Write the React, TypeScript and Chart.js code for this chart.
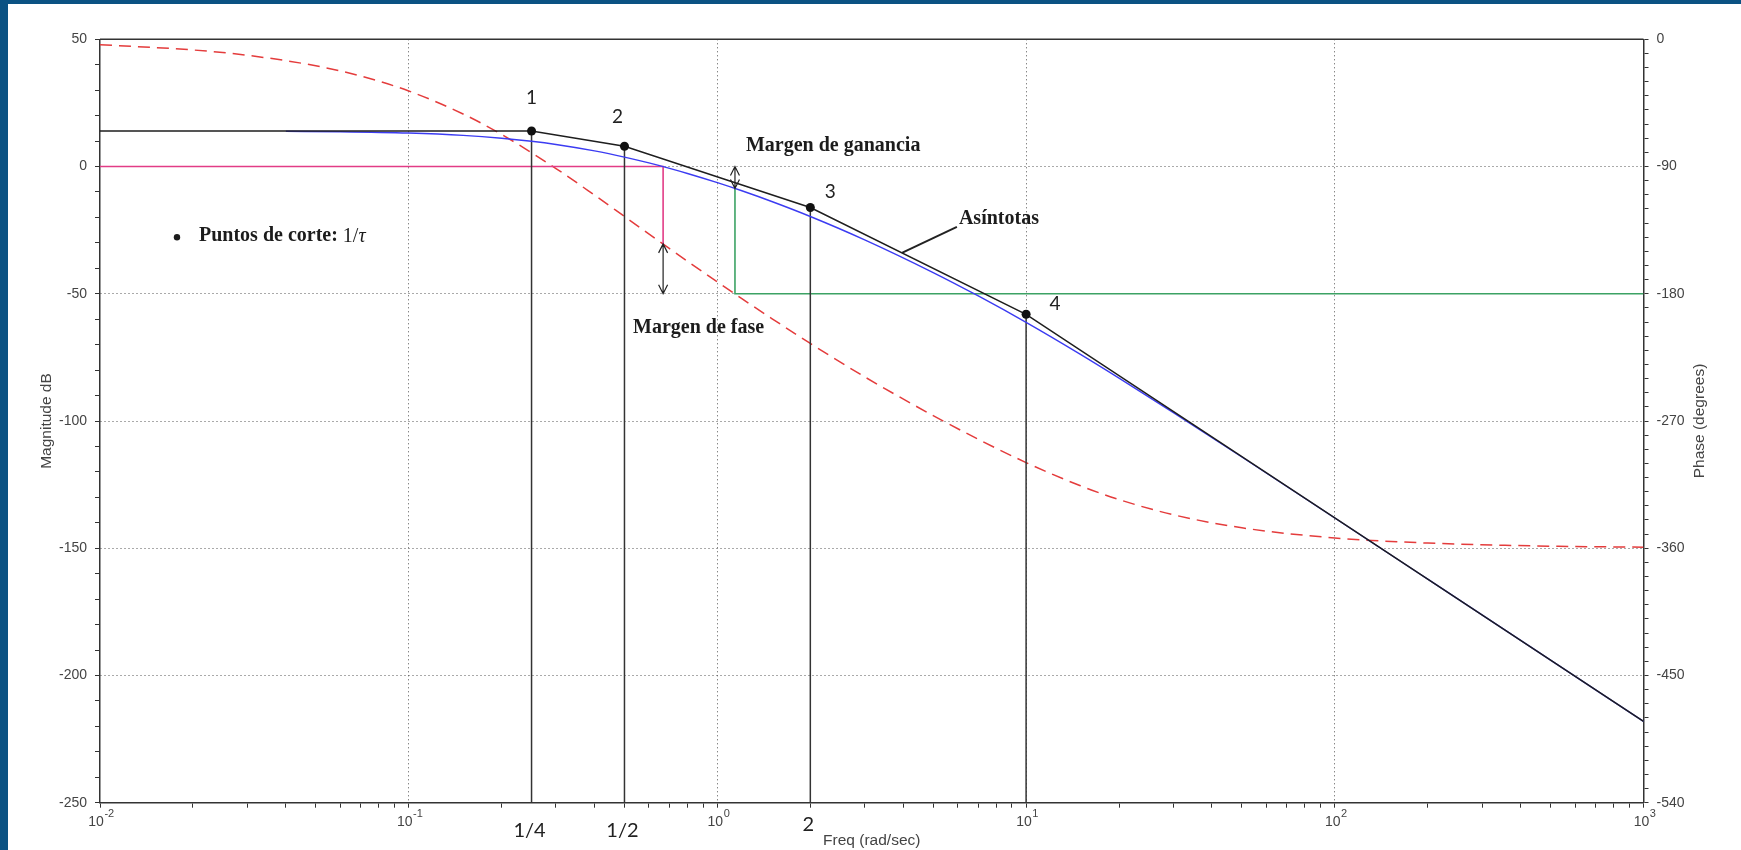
import React, { useEffect, useRef } from "react";
import { Chart, registerables } from "chart.js";

Chart.register(...registerables);

// G(s) = 5 / ((4s+1)(2s+1)(0.5s+1)(0.1s+1)) — Bode diagram with asymptotes and margins

// Corner frequencies 1/tau (rad/s) and their numbering
const breakFreqs = [0.25, 0.5, 2, 10];
const breakLabels = ["1", "2", "3", "4"];
const breakAxisLabels = ["1/4", "1/2", "2"];

// Straight-line asymptotes (dB)
const asymFreqs = [0.01, 0.25, 0.5, 2, 10, 1000];
const asymDb = [13.98, 13.98, 7.96, -16.12, -58.06, -218.06];

// Exact magnitude (dB)
const magFreqs = [
  0.04, 0.06, 0.1, 0.15, 0.2, 0.25, 0.3, 0.4, 0.5, 0.6, 0.7, 0.8, 1, 1.2, 1.5, 2, 3, 5, 7, 10,
  15, 20, 30, 50, 100, 200, 500, 1000,
];
const magDb = [
  13.84, 13.67, 13.15, 12.25, 11.14, 9.93, 8.67, 6.14, 3.71, 1.42, -0.72, -2.72, -6.33, -9.53,
  -13.74, -19.63, -28.81, -41.67, -50.87, -61.25, -73.83, -83.16, -96.71, -114.16, -138.11,
  -162.15, -193.98, -218.06,
];

// Phase (degrees, right axis)
const phaseFreqs = [
  0.01, 0.02, 0.03, 0.05, 0.07, 0.1, 0.15, 0.2, 0.3, 0.4, 0.5, 0.7, 1, 1.2, 1.5, 2, 3, 5, 7, 10,
  15, 20, 30, 50, 100, 200, 500, 1000,
];
const phaseDeg = [
  -3.78, -7.55, -11.31, -18.74, -26.02, -36.54, -52.81, -67.32, -91.41, -110.26, -125.33, -148.1,
  -171.68, -183.42, -197.5, -215.15, -238.78, -266.19, -282.92, -299.4, -315.85, -325.58, -336.32,
  -345.54, -352.71, -356.35, -358.54, -359.27,
];

// Margins
const gainCrossFreq = 0.667; // |G| = 0 dB
const gainCrossPhaseDb = -30.4; // phase there (-144.7 deg) read on the dB axis
const phaseCrossFreq = 1.14; // phase = -180 deg
const phaseCrossMagDb = -8.6; // magnitude there
const minus180Db = -50; // -180 deg on the dB axis

// Point where the "Asíntotas" leader touches the asymptote
const leaderFreq = 3.96;
const leaderDb = -33.9;

// Axis ticks
const xDecades = [0.01, 0.1, 1, 10, 100, 1000];
const xDecadeExponents = ["-2", "-1", "0", "1", "2", "3"];
const magTickLabels = [50, 0, -50, -100, -150, -200, -250];
const phaseTickLabels = [0, -90, -180, -270, -360, -450, -540];

const xTickValues: number[] = [];
xDecades.slice(0, -1).forEach((d) => {
  for (let m = 1; m < 10; m++) xTickValues.push(+(m * d).toPrecision(6));
});
xTickValues.push(xDecades[xDecades.length - 1]);

const SANS = '"Liberation Sans", Arial, sans-serif';
const SERIF = '"Liberation Serif", "Times New Roman", serif';
const NUM = 'Lato, "Open Sans", sans-serif';
const AXIS = "#333";
const TXT = "#444";
const GRID = "#555";

const pts = (xs: number[], ys: number[]) => xs.map((x, i) => ({ x, y: ys[i] }));
const decadeIndex = (v: number) => xDecades.findIndex((d) => Math.abs(d - v) < d * 1e-6);

const notesPlugin = {
  id: "bodeNotes",
  beforeDraw(chart: any) {
    const { ctx, width, height } = chart;
    ctx.save();
    ctx.fillStyle = "#ffffff";
    ctx.fillRect(0, 0, width, height);
    ctx.fillStyle = "#0b5283";
    ctx.fillRect(0, 0, 8, height);
    ctx.fillRect(0, 0, width, 4);
    ctx.restore();
  },
  afterDraw(chart: any) {
    const { ctx, chartArea: a, scales } = chart;
    const px = (f: number) => scales.x.getPixelForValue(f);
    const py = (d: number) => scales.y.getPixelForValue(d);
    ctx.save();

    // top edge of the frame
    ctx.strokeStyle = AXIS;
    ctx.lineWidth = 1.5;
    ctx.beginPath();
    ctx.moveTo(a.left, a.top);
    ctx.lineTo(a.right, a.top);
    ctx.stroke();

    // decade labels of the frequency axis: 10 with a raised exponent
    ctx.fillStyle = TXT;
    ctx.textBaseline = "middle";
    ctx.textAlign = "left";
    xDecades.forEach((d, i) => {
      ctx.font = `14px ${SANS}`;
      const wBase = ctx.measureText("10").width;
      ctx.font = `11px ${SANS}`;
      const wExp = ctx.measureText(xDecadeExponents[i]).width;
      const x0 = px(d) - (wBase + wExp) / 2 + 1;
      ctx.font = `14px ${SANS}`;
      ctx.fillText("10", x0, a.bottom + 19);
      ctx.font = `11px ${SANS}`;
      ctx.fillText(xDecadeExponents[i], x0 + wBase + 0.5, a.bottom + 11);
    });

    // double arrows for the margins
    const arrow = (x: number, yTop: number, yBot: number) => {
      ctx.beginPath();
      ctx.moveTo(x, yTop);
      ctx.lineTo(x, yBot);
      ctx.moveTo(x - 4.5, yTop + 9);
      ctx.lineTo(x, yTop);
      ctx.lineTo(x + 4.5, yTop + 9);
      ctx.moveTo(x - 4.5, yBot - 9);
      ctx.lineTo(x, yBot);
      ctx.lineTo(x + 4.5, yBot - 9);
      ctx.stroke();
    };
    ctx.strokeStyle = "#222";
    ctx.lineWidth = 1.2;
    arrow(px(phaseCrossFreq), py(0), py(phaseCrossMagDb));
    arrow(px(gainCrossFreq), py(gainCrossPhaseDb), py(minus180Db));

    // leader line to the asymptote
    const lx = px(leaderFreq);
    const ly = py(leaderDb);
    ctx.lineWidth = 2;
    ctx.beginPath();
    ctx.moveTo(lx, ly);
    ctx.lineTo(lx + 55, ly - 26);
    ctx.stroke();

    ctx.fillStyle = "#1c1c1c";
    ctx.textBaseline = "middle";

    // bold notes
    ctx.font = `bold 20px ${SERIF}`;
    ctx.textAlign = "left";
    ctx.fillText("Asíntotas", lx + 57, ly - 34);
    ctx.fillText("Margen de ganancia", px(phaseCrossFreq) + 11, py(0) - 21);
    ctx.fillText("Margen de fase", px(gainCrossFreq) - 30, py(minus180Db) + 34);

    // bullet note
    const bx = a.left + 77;
    const by = a.top + 197;
    ctx.beginPath();
    ctx.arc(bx, by + 1, 3.2, 0, Math.PI * 2);
    ctx.fill();
    let tx = bx + 22;
    const t1 = "Puntos de corte: ";
    ctx.fillText(t1, tx, by);
    tx += ctx.measureText(t1).width;
    ctx.font = `20px ${SERIF}`;
    ctx.fillText("1/", tx, by);
    tx += ctx.measureText("1/").width;
    ctx.font = `italic 20px ${SERIF}`;
    ctx.fillText("\u03C4", tx, by);

    // numbering of the corner points
    const numOffsets = [
      [0, -33],
      [-7, -29],
      [20, -16],
      [29, -10],
    ];
    ctx.font = `19px ${NUM}`;
    ctx.fillStyle = "#222";
    ctx.textAlign = "center";
    breakFreqs.forEach((f, i) => {
      const d = asymDb[asymFreqs.indexOf(f)];
      ctx.fillText(breakLabels[i], px(f) + numOffsets[i][0], py(d) + numOffsets[i][1]);
    });

    // corner frequencies under the axis
    ctx.font = `20px ${NUM}`;
    ctx.textBaseline = "alphabetic";
    const lift = [0, 0, 6];
    breakAxisLabels.forEach((s, i) => {
      ctx.fillText(s, px(breakFreqs[i]) - 2, a.bottom + 34 - lift[i]);
    });

    // right-hand axis title, reading upwards
    ctx.font = `15.5px ${SANS}`;
    ctx.fillStyle = TXT;
    ctx.textBaseline = "middle";
    ctx.translate(1700, (a.top + a.bottom) / 2);
    ctx.rotate(-Math.PI / 2);
    ctx.fillText("Phase (degrees)", 0, 0);

    ctx.restore();
  },
};

export default function App() {
  const ref = useRef<HTMLCanvasElement>(null);

  useEffect(() => {
    const canvas = ref.current;
    if (!canvas) return;

    const breakLines = breakFreqs.map((f, i) => ({
      label: `corte ${breakLabels[i]}`,
      data: [
        { x: f, y: asymDb[asymFreqs.indexOf(f)] },
        { x: f, y: -250 },
      ],
      yAxisID: "y",
      borderColor: "#333",
      borderWidth: 1.5,
      pointRadius: 0,
      order: 2,
    }));

    const chart = new Chart(canvas, {
      type: "line",
      data: {
        datasets: [
          {
            label: "Asíntotas",
            data: pts(asymFreqs, asymDb),
            yAxisID: "y",
            borderColor: "#1e1e1e",
            borderWidth: 1.5,
            pointRadius: (c: any) => (c.dataIndex >= 1 && c.dataIndex <= 4 ? 4.5 : 0),
            pointBackgroundColor: "#111",
            pointBorderWidth: 0,
            order: 0,
          },
          {
            label: "Magnitud",
            data: pts(magFreqs, magDb),
            yAxisID: "y",
            borderColor: "#3c3cf2",
            borderWidth: 1.4,
            pointRadius: 0,
            cubicInterpolationMode: "monotone",
            order: 1,
          },
          ...breakLines,
          {
            label: "0 dB",
            data: [
              { x: 0.01, y: 0 },
              { x: gainCrossFreq, y: 0 },
              { x: gainCrossFreq, y: gainCrossPhaseDb },
            ],
            yAxisID: "y",
            borderColor: "#e23c86",
            borderWidth: 1.6,
            pointRadius: 0,
            order: 3,
          },
          {
            label: "-180",
            data: [
              { x: phaseCrossFreq, y: phaseCrossMagDb },
              { x: phaseCrossFreq, y: minus180Db },
              { x: 1000, y: minus180Db },
            ],
            yAxisID: "y",
            borderColor: "#3ca264",
            borderWidth: 1.6,
            pointRadius: 0,
            order: 4,
          },
          {
            label: "Fase",
            data: pts(phaseFreqs, phaseDeg),
            yAxisID: "y2",
            borderColor: "#e43c3c",
            borderWidth: 1.5,
            borderDash: [12, 7],
            pointRadius: 0,
            cubicInterpolationMode: "monotone",
            order: 5,
          },
        ],
      },
      options: {
        responsive: false,
        animation: false,
        devicePixelRatio: 1,
        layout: { padding: { top: 39.3, left: 0, right: 0, bottom: 0 } },
        plugins: {
          legend: { display: false },
          tooltip: { enabled: false },
        },
        scales: {
          x: {
            type: "logarithmic",
            position: "bottom",
            min: 0.01,
            max: 1000,
            afterBuildTicks: (s: any) => {
              s.ticks = xTickValues.map((v) => ({ value: v }));
            },
            afterFit: (s: any) => {
              s.height = 47.3;
            },
            ticks: {
              autoSkip: false,
              maxRotation: 0,
              minRotation: 0,
              padding: 4,
              color: TXT,
              font: { family: SANS, size: 14 },
              // decade labels carry a raised exponent and are drawn by the plugin
              callback: () => "",
            },
            grid: {
              color: (c: any) => {
                const v = c.tick ? c.tick.value : NaN;
                const i = decadeIndex(v);
                return i > 0 && i < xDecades.length - 1 ? GRID : "rgba(0,0,0,0)";
              },
              lineWidth: 1,
              tickLength: 5,
              tickColor: AXIS,
            },
            border: { display: true, color: AXIS, width: 1.5, dash: [1, 3] },
            title: {
              display: true,
              text: "Freq (rad/sec)",
              color: TXT,
              font: { family: SANS, size: 15.5 },
              padding: { top: 0, bottom: 0 },
            },
          },
          y: {
            type: "linear",
            position: "left",
            min: -250,
            max: 50,
            afterFit: (s: any) => {
              s.width = 100;
            },
            ticks: {
              stepSize: 10,
              autoSkip: false,
              padding: 8,
              color: TXT,
              font: { family: SANS, size: 14 },
              callback: (v: any) => (magTickLabels.includes(Number(v)) ? String(v) : ""),
            },
            grid: {
              color: (c: any) => {
                const v = c.tick ? c.tick.value : NaN;
                return magTickLabels.includes(v) && v > -250 && v < 50 ? GRID : "rgba(0,0,0,0)";
              },
              lineWidth: 1,
              tickLength: 5,
              tickColor: AXIS,
            },
            border: { display: true, color: AXIS, width: 1.5, dash: [1, 3] },
            title: {
              display: true,
              text: "Magnitude dB",
              color: TXT,
              font: { family: SANS, size: 15.5 },
              padding: { top: 37, bottom: 0 },
            },
          },
          y2: {
            type: "linear",
            position: "right",
            min: -540,
            max: 0,
            afterFit: (s: any) => {
              s.width = 97.5;
            },
            ticks: {
              stepSize: 10,
              autoSkip: false,
              padding: 8,
              color: TXT,
              font: { family: SANS, size: 14 },
              callback: (v: any) => (phaseTickLabels.includes(Number(v)) ? String(v) : ""),
            },
            grid: {
              drawOnChartArea: false,
              color: AXIS,
              tickLength: 5,
              tickColor: AXIS,
            },
            border: { display: true, color: AXIS, width: 1.5 },
          },
        },
      },
      plugins: [notesPlugin],
    } as any);

    return () => chart.destroy();
  }, []);

  return (
    <div style={{ position: "fixed", left: 0, top: 0, width: 1741, height: 850, background: "#fff" }}>
      <canvas ref={ref} width={1741} height={850} style={{ display: "block", width: 1741, height: 850 }} />
    </div>
  );
}
